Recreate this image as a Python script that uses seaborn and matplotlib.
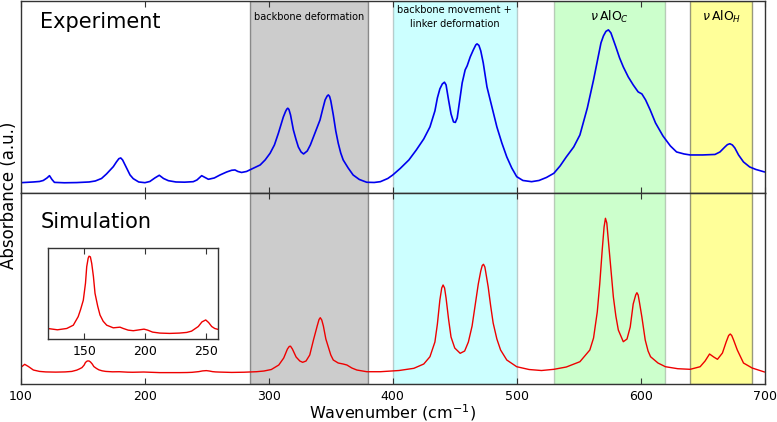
"""
plot.py
-------
Experimental vs simulated far-IR absorbance spectrum with shaded band assignments.
Output: out.png (777x422)
"""

import pandas as pd
import matplotlib
matplotlib.use("Agg")
import matplotlib.pyplot as plt
import seaborn as sns

# ---------------------------------------------------------------------------
# Data (arbitrary absorbance units)
# ---------------------------------------------------------------------------

exp_wavenumber = [
    100, 105, 110, 115, 118, 121, 123, 125, 127, 135, 145, 155, 160, 165, 169, 172,
    174.5, 177, 179, 180.5, 182, 185.3, 188, 190.6, 195, 200, 204, 208, 211.6, 215, 218.9,
    225, 232, 239, 242, 245.8, 248.5, 251.2, 256, 260.6, 266, 270, 272.7, 275, 278,
    282, 287.5, 293, 297, 301, 304.5, 307.7, 310, 311.7, 313.5, 314.5, 315.3, 316.2,
    317.5, 319.8, 321.8, 323.8, 326, 328, 331, 333.5, 336, 338.5, 341.3, 343.5, 345.4,
    347, 348, 349, 350, 352, 354, 356, 358, 360, 364, 368, 373, 379, 385, 390, 396,
    400, 406, 413, 419, 425, 430, 434, 436, 438, 440, 441.7, 443, 445, 447, 449, 450.5,
    452, 454.4, 456, 458.4, 460, 462.5, 465, 467, 468, 469.5, 471, 473, 476, 480, 484,
    488, 492, 496, 500, 505, 512, 518, 524, 530, 535, 540, 546, 551, 557, 562, 566,
    568, 570, 572, 574, 576, 578, 580, 583, 586, 590, 594, 598, 601, 604, 607.7, 612,
    618, 624, 629, 635, 640, 650, 660, 664, 668, 670, 672, 674, 676, 679, 683, 688,
    693, 699, 700,
]
exp_absorbance = [
    10.3, 10.6, 11.0, 11.5, 12.5, 15.0, 17.3, 13.5, 10.6, 10.2, 10.4, 11.0, 12.0, 14.5, 19.0, 23.0,
    26.3, 31.0, 34.3, 35.0, 33.0, 24.7, 18.0, 14.3, 11.0, 10.3, 11.5, 15.0, 17.7, 14.5, 12.3,
    11.0, 10.8, 11.3, 13.0, 17.3, 15.5, 13.7, 15.0, 18.0, 21.0, 22.7, 23.0, 21.5, 20.5,
    21.5, 24.7, 28.0, 33.0, 39.7, 48.0, 59.7, 69.0, 76.0, 81.5, 83.8, 84.7, 83.5,
    78.0, 63.0, 54.0, 46.0, 41.0, 39.0, 42.0, 48.0, 56.0, 64.0, 73.0, 84.0, 93.0,
    96.8, 98.0, 96.5, 92.0, 78.0, 62.0, 49.7, 40.0, 33.0, 25.0, 18.0, 13.5, 10.7, 10.5, 11.3, 14.5,
    18.0, 24.5, 33.0, 43.0, 54.0, 66.0, 82.0, 95.0, 104.0, 109.0, 110.7, 108.0, 93.0, 79.0, 71.0, 70.5,
    75.0, 96.0, 110.0, 123.0, 127.0, 136.0, 143.0, 148.0, 149.0, 147.5, 142.0, 130.0, 106.0, 86.0, 66.0,
    50.0, 36.0, 25.0, 16.3, 12.5, 11.3, 12.5, 15.5, 19.7, 27.0, 36.0, 46.0, 58.0, 85.0, 113.0, 138.0,
    150.0, 157.0, 161.5, 163.0, 160.0, 153.0, 146.0, 135.0, 126.0, 116.0, 108.0, 101.0, 99.0, 93.0, 83.0, 70.0,
    57.0, 47.0, 41.0, 39.0, 38.0, 38.0, 38.5, 41.0, 46.0, 48.3, 49.2, 48.0, 45.0, 38.0, 31.0, 26.0,
    23.5, 21.3, 21.0,
]

sim_wavenumber = [
    100, 103, 106, 110, 115, 120, 128, 135.6, 141, 145, 147, 149.2, 151, 152, 153.2, 153.9, 155,
    156.1, 157.5, 158.8, 161, 162.9, 165.5, 168.4, 173.8, 177, 179.3, 182, 186, 190.2, 195,
    199, 202, 206, 212, 220, 228, 234, 238, 243.5, 246.5, 249.6, 252, 254.5, 257, 260,
    270, 280, 290, 296, 302, 308, 312, 315, 316.5, 317.5, 319, 322, 325, 327.3, 330, 333, 336,
    339, 340.5, 341.5, 342.7, 344, 346, 348, 350, 352, 356, 360, 363, 367, 371, 379, 390, 405, 417,
    425, 430, 434, 436, 438, 439.5, 440.6, 441.8, 443, 445, 447, 450, 454.4, 458, 461, 464, 466, 469,
    471, 472.2, 473.2, 474.3, 475, 477, 479, 481, 484, 487, 492, 500, 510, 520, 530, 540, 551, 559,
    562, 565, 567, 569, 570.5, 571.6, 572.7, 573.5, 575.4, 578, 580, 582, 586, 589, 591.6, 594, 596,
    597, 598, 599, 601, 603.7, 606, 608, 614, 620, 630, 640, 648, 652, 655.6, 659, 662, 666,
    669, 671, 672.3, 673.5, 675, 678, 683, 690, 699, 700,
]
sim_absorbance = [
    16.7, 19.7, 17.5, 14.0, 12.6, 12.1, 11.9, 12.1, 12.6, 13.9, 15.0, 16.4, 19.0, 21.5, 22.8, 23.1, 23.0,
    22.0, 20.0, 17.45, 15.5, 14.15, 13.2, 12.6, 12.2, 12.25, 12.3, 12.1, 11.85, 11.76, 11.9,
    12.0, 11.85, 11.55, 11.4, 11.35, 11.4, 11.5, 11.7, 12.4, 13.1, 13.4, 13.0, 12.4, 12.1, 11.95,
    11.6, 11.8, 12.3, 13.0, 14.5, 19.0, 26.0, 35.0, 37.6, 37.8, 35.0, 27.0, 23.0, 21.7, 23.0, 29.0, 44.0,
    58.0, 64.5, 66.3, 64.0, 58.0, 45.0, 37.0, 29.0, 24.0, 21.0, 20.0, 19.0, 16.0, 14.0, 12.3, 12.3, 13.5, 15.7,
    20.0, 27.3, 42.0, 60.0, 84.0, 96.0, 99.0, 96.0, 86.0, 65.0, 47.0, 36.0, 30.7, 33.0, 42.0, 58.0, 75.0, 100.0,
    113.0, 118.5, 119.7, 117.0, 112.0, 97.0, 78.0, 61.0, 45.0, 34.0, 24.0, 17.3, 14.5, 13.5, 14.7, 17.0, 22.3, 34.0,
    46.0, 72.0, 100.0, 134.0, 157.0, 165.7, 161.0, 150.0, 124.0, 87.0, 68.0, 54.0, 42.3, 45.0, 57.0, 80.0, 89.0,
    91.3, 89.0, 82.0, 67.0, 44.0, 33.0, 27.3, 21.0, 17.3, 15.3, 14.7, 17.3, 23.0, 30.0, 27.0, 24.7, 31.0,
    42.0, 48.5, 50.0, 48.5, 44.0, 34.0, 21.0, 16.0, 12.3, 12.0,
]

# shaded band assignments
band_starts = [285, 400, 530, 640]
band_ends = [380, 500, 620, 690]
band_colors = ["gray", "cyan", "lime", "yellow"]
band_alphas = [0.4, 0.2, 0.2, 0.4]
band_labels = ["backbone deformation", "backbone movement +\nlinker deformation",
               r"$\nu\,\mathrm{AlO}_C$", r"$\nu\,\mathrm{AlO}_H$"]
label_sizes = [7, 7, 9, 9]

main_ticks = [100, 200, 300, 400, 500, 600, 700]
inset_ticks = [150, 200, 250]

# ---------------------------------------------------------------------------
# Style
# ---------------------------------------------------------------------------

sns.set_style("ticks")
plt.rcParams["font.family"] = ["DejaVu Sans"]
plt.rcParams["mathtext.fontset"] = "dejavusans"
plt.rcParams["text.color"] = "black"
plt.rcParams["axes.labelcolor"] = "black"
plt.rcParams["xtick.direction"] = "in"
plt.rcParams["xtick.top"] = True
plt.rcParams["xtick.major.size"] = 4
plt.rcParams["xtick.color"] = "#333333"
plt.rcParams["xtick.labelcolor"] = "black"
plt.rcParams["axes.edgecolor"] = "#333333"
plt.rcParams["axes.linewidth"] = 1.0

exp_df = pd.DataFrame({"wavenumber": exp_wavenumber, "absorbance": exp_absorbance})
sim_df = pd.DataFrame({"wavenumber": sim_wavenumber, "absorbance": sim_absorbance})

fig = plt.figure(figsize=(7.77, 4.22), dpi=100)
left, right = 0.027, 0.984
ax_exp = fig.add_axes([left, 0.5427, right - left, 0.4553])
ax_sim = fig.add_axes([left, 0.0900, right - left, 0.4527], sharex=ax_exp)

for ax in (ax_exp, ax_sim):
    for s, e, c, a in zip(band_starts, band_ends, band_colors, band_alphas):
        ax.axvspan(s, e, facecolor=c, edgecolor="black", alpha=a, lw=1.0, zorder=0)

# Experiment
sns.lineplot(data=exp_df, x="wavenumber", y="absorbance", ax=ax_exp,
             color="#0000ee", lw=1.2, estimator=None, sort=False)
ax_exp.set_xlim(100, 700)
ax_exp.set_ylim(0, 192)
ax_exp.set_yticks([])
ax_exp.tick_params(axis="x", labelbottom=False)
ax_exp.set_xlabel("")
ax_exp.set_ylabel("")
ax_exp.text(0.026, 0.89, "Experiment", transform=ax_exp.transAxes,
            fontsize=15, ha="left", va="center")

for s, e, lab, fs in zip(band_starts, band_ends, band_labels, label_sizes):
    ax_exp.text((s + e) / 2, 0.915 * 192, lab, ha="center", va="center",
                fontsize=fs, linespacing=1.5)

# Simulation
sns.lineplot(data=sim_df, x="wavenumber", y="absorbance", ax=ax_sim,
             color="#ee0000", lw=1.0, estimator=None, sort=False)
ax_sim.set_xlim(100, 700)
ax_sim.set_ylim(0, 191)
ax_sim.set_yticks([])
ax_sim.set_xticks(main_ticks)
ax_sim.tick_params(axis="x", labelsize=9, pad=4)
ax_sim.set_ylabel("")
ax_sim.set_xlabel("Wavenumber (cm$^{-1}$)", fontsize=11.5)
ax_sim.xaxis.set_label_coords(0.5, -0.095)
ax_sim.xaxis.label.set_verticalalignment("top")
ax_sim.text(0.026, 0.85, "Simulation", transform=ax_sim.transAxes,
            fontsize=15, ha="left", va="center")

fig.text(0.011, 0.538, "Absorbance (a.u.)", rotation=90, fontsize=12,
         ha="center", va="center")

# Inset zoom on the low-wavenumber simulated peaks
ax_in = fig.add_axes([47.7 / 777, 1 - 339 / 422, 170.7 / 777, 90.7 / 422])
sns.lineplot(data=sim_df, x="wavenumber", y="absorbance", ax=ax_in,
             color="#ee0000", lw=1.0, estimator=None, sort=False)
ax_in.set_xlim(120, 260)
ax_in.set_ylim(10.5, 24.3)
ax_in.set_yticks([])
ax_in.set_xticks(inset_ticks)
ax_in.tick_params(axis="x", labelsize=9, pad=4)
ax_in.set_xlabel("")
ax_in.set_ylabel("")
ax_in.set_facecolor("white")

fig.savefig("out.png", dpi=100)
